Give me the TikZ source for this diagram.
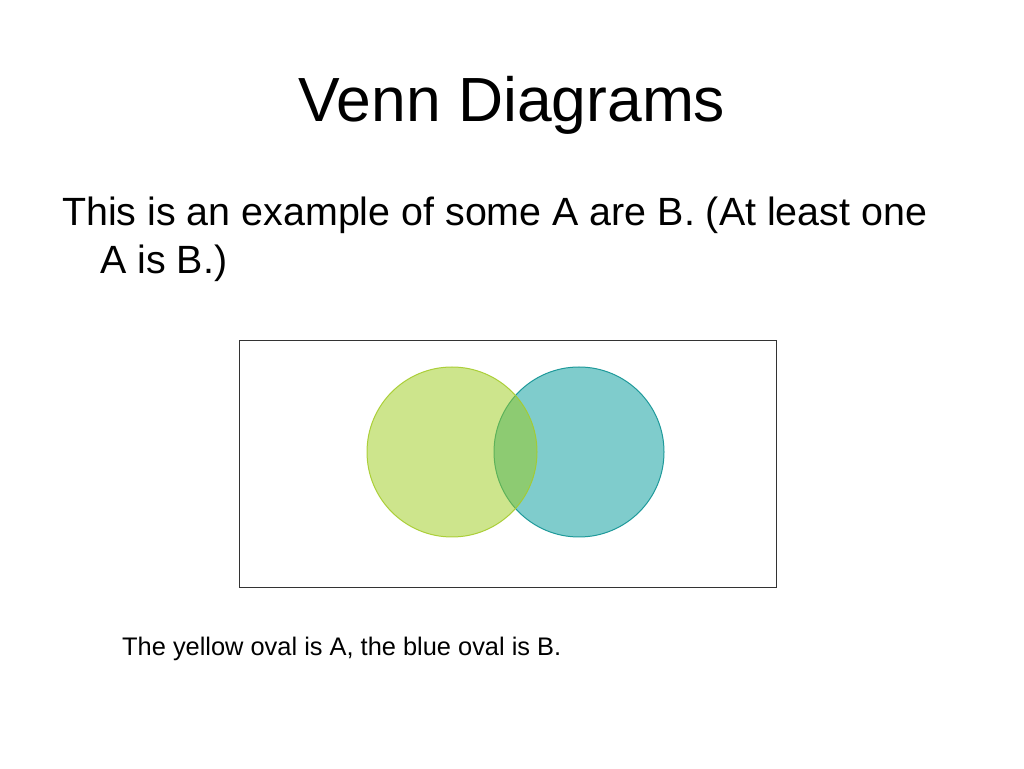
\documentclass[tikz,border=0pt]{standalone}
\usepackage{fontspec}
\setmainfont{Liberation Sans}
\usepackage{tikz}

\definecolor{setyellow}{HTML}{9BCB1A}
\definecolor{setblue}{HTML}{00999A}
\definecolor{rimyellow}{HTML}{A6CB2C}
\definecolor{rimblue}{HTML}{1F9A9A}

\tikzset{
  setA/.style={draw=rimyellow,fill=setyellow,fill opacity=0.5,draw opacity=0.9,line width=1pt},
  setB/.style={draw=rimblue,fill=setblue,fill opacity=0.5,line width=1pt}
}

\begin{document}
\begin{tikzpicture}[x=1pt,y=1pt]
            \useasboundingbox (0,0) rectangle (1024,768);
            \node[anchor=base,inner sep=0] (title) at (512,646) {\fontsize{62.4}{70}\selectfont Venn Diagrams};
            \node[anchor=base west,inner sep=0] (line1) at (62,542) {\fontsize{39.4}{48}\selectfont This is an example of some A are B. (At least one};
            \node[anchor=base west,inner sep=0] (line2) at (100,494) {\fontsize{39.4}{48}\selectfont A is B.)};
            \draw[line width=1pt,black!80] (239,427) rectangle (776,180);
            \draw[setB] (579,316) circle (85);
            \draw[setA] (452,316) circle (85);
            \node[anchor=base west,inner sep=0] (caption) at (122,113) {\fontsize{25.4}{30}\selectfont The yellow oval is A, the blue oval is B.};
        \end{tikzpicture}
\end{document}
